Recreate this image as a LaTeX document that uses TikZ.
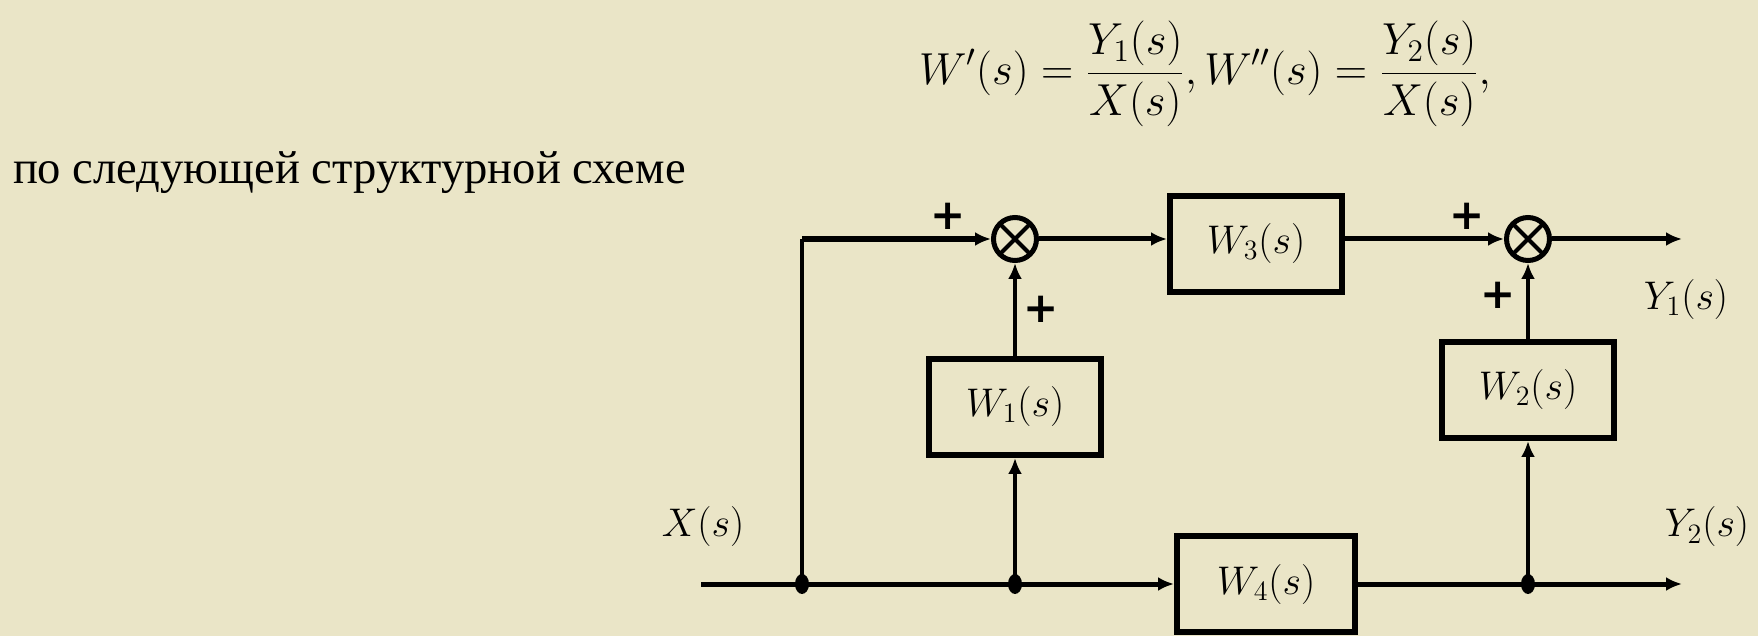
\RequirePackage{fix-cm}
\documentclass[tikz,border=0pt]{standalone}
\usepackage{fontspec}
\newfontfamily\rutext{Liberation Serif}
\setsansfont{DejaVu Sans}
\usetikzlibrary{arrows.meta}
\definecolor{paper}{RGB}{234,229,199}
\tikzset{
	block/.style={draw, line width=3pt, minimum width=86pt, minimum height=48pt, font=\fontsize{20}{24}\selectfont},
	summer/.style={circle, draw, line width=2.5pt, minimum size=21.5pt, inner sep=0pt,
		path picture={\draw[line width=2pt] (path picture bounding box.north west) -- (path picture bounding box.south east)
			(path picture bounding box.north east) -- (path picture bounding box.south west);}},
	sig/.style={line width=2.5pt, -{Latex[length=8pt,width=7pt]}},
	lbl/.style={font=\fontsize{20}{24}\selectfont},
	plus/.style={font=\sffamily\bfseries\fontsize{21}{24}\selectfont, inner sep=0pt}
}
\begin{document}
\begin{tikzpicture}[x=0.5pt,y=-0.5pt]
		\fill[paper] (0,0) rectangle (1758,636);
		\useasboundingbox (0,0) rectangle (1758,636);
		\node[anchor=base west, font=\rutext\fontsize{23.3}{27}\selectfont] (txt) at (6,184) {по следующей структурной схеме};
		\node[font=\fontsize{22.4}{26}\selectfont] (frm) at (1205,74) {$\displaystyle W'(s)=\frac{Y_1(s)}{X(s)},W''(s)=\frac{Y_2(s)}{X(s)},$};
		\node[block] (w1) at (1015,407) {$W_1(s)$};
		\node[block] (w2) at (1528,390) {$W_2(s)$};
		\node[block] (w3) at (1256,244) {$W_3(s)$};
		\node[block, minimum width=89pt] (w4) at (1266,584) {$W_4(s)$};
		\node[summer] (sa) at (1015,239) {};
		\node[summer] (sb) at (1528,239) {};
		\coordinate (in) at (701,584);
		\coordinate (j1) at (802,584);
		\coordinate (j2) at (1015,584);
		\coordinate (j3) at (1528,584);
		\coordinate (c1) at (802,239);
		\coordinate (out1) at (1682,239);
		\coordinate (out2) at (1682,584);
		\draw[sig] (in) -- (w4.west);
		\draw[line width=1.8pt] (j1) -- (c1);
		\draw[sig, line width=3pt] (c1) -- (sa.west);
		\draw[sig, line width=1.6pt] (j2) -- (w1.south);
		\draw[sig, line width=2pt] (w1.north) -- (sa.south);
		\draw[sig] (sa.east) -- (sa.east -| w3.west);
		\draw[sig] (sb.west -| w3.east) -- (sb.west);
		\draw[sig] (sb.east) -- (out1);
		\draw[sig] (w4.east) -- (out2);
		\draw[sig, line width=1.8pt] (j3) -- (w2.south);
		\draw[sig, line width=1.8pt] (w2.north) -- (sb.south);
		\fill (j1) ellipse (3.5pt and 5pt);
		\fill (j2) ellipse (3.5pt and 5pt);
		\fill (j3) ellipse (3.5pt and 5pt);
		\node[lbl] (xl) at (703,527) {$X(s)$};
		\node[lbl] (y1l) at (1686,300) {$Y_1(s)$};
		\node[lbl] (y2l) at (1707,527) {$Y_2(s)$};
		\node[plus] (pa) at (948,216) {+};
		\node[plus] (pb) at (1041,309) {+};
		\node[plus] (pc) at (1467,216) {+};
		\node[plus] (pd) at (1498,295) {+};
\end{tikzpicture}
\end{document}
